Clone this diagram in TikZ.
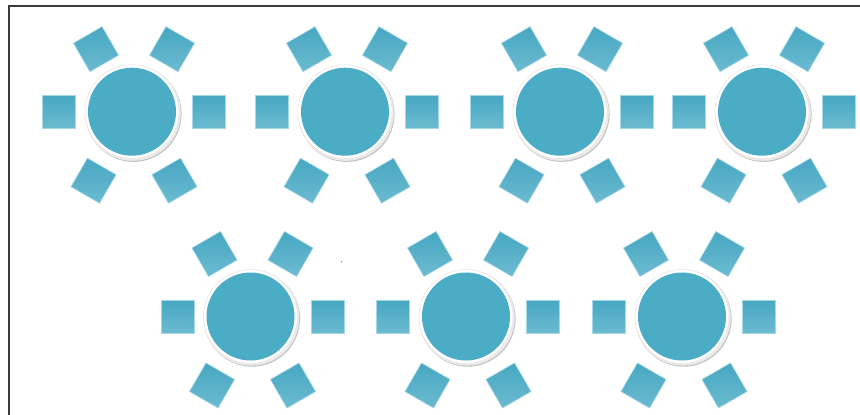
\documentclass[tikz,border=0pt]{standalone}
\usetikzlibrary{calc}

\definecolor{tablefill}{HTML}{4BACC6}
\definecolor{chairtop}{HTML}{47A7C2}
\definecolor{chairmid}{HTML}{8ACBDC}
\definecolor{chairbot}{HTML}{6BBBD0}
\definecolor{chairedge}{HTML}{A6D8E6}
\definecolor{framecol}{HTML}{3A3A3A}
\definecolor{shadowgray}{HTML}{C4C4C4}
\definecolor{speck}{HTML}{7C80C0}

\tikzset{
  ring/.style={circle, minimum size=94pt, inner sep=0pt, fill=white, draw=black!12, line width=0.4pt},
  tabletop/.style={circle, minimum size=88pt, inner sep=0pt, fill=tablefill},
  chair/.style={rectangle, minimum width=33pt, minimum height=33pt, inner sep=0pt, draw=chairedge, line width=0.6pt,
                top color=chairtop, middle color=chairmid, bottom color=chairbot},
}

% one round table with six seats around it: name, centre x, centre y (y measured downwards)
\newcommand{\seatgroup}[3]{%
  \fill[shadowgray] (#2+1.6,-#3-2.2) circle (48);
  \fill[black!8] (#2+0.8,-#3-1.1) circle (48);
  \node[ring] (#1) at (#2,-#3) {};
  \node[tabletop] (#1-top) at (#2,-#3) {};
  \foreach \dx/\dy/\r [count=\i] in {75/0/0, 38/62.5/-30, -38/62.5/30, -75/0/0, -40.5/-69/-30, 40.5/-69/30}
    \node[chair, rotate=\r] (#1-c\i) at (#2+2+\dx, -#3+\dy) {};
}

\begin{document}
\begin{tikzpicture}[x=1pt, y=1pt]
  \useasboundingbox[fill=white] (0,-415) rectangle (860,0);

  % page frame
  \draw[framecol, line width=1.6pt] (9,-415) -- (9,-5.8) -- (860,-5.8);

  % first row
  \seatgroup{ta}{132}{111.7}
  \seatgroup{tb}{345}{111.7}
  \seatgroup{tc}{560}{111.7}
  \seatgroup{td}{762}{111.7}

  % second row
  \seatgroup{te}{250.5}{316.5}
  \seatgroup{tf}{466}{316.5}
  \seatgroup{tg}{682}{316.5}

  % small speck
  \fill[speck] (341.6,-261.7) circle (0.8);
\end{tikzpicture}
\end{document}
